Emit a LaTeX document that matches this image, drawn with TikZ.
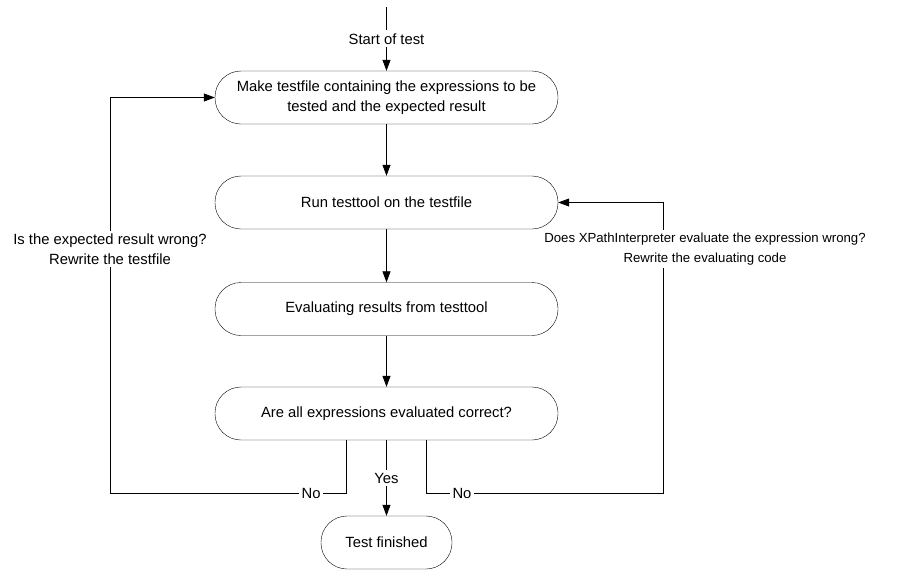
\documentclass[tikz,border=0pt]{standalone}
\usepackage{fontspec}
\setmainfont{Liberation Sans}
\usetikzlibrary{arrows.meta}

\begin{document}
\begin{tikzpicture}[x=1pt, y=-1pt,
        stadium/.style={draw, rounded corners=26pt, minimum height=53pt,
            minimum width=343pt, align=center, inner sep=0pt},
        flow/.style={line width=0.8pt, -{Triangle[length=11pt, width=8pt]}},
        lbl/.style={fill=white, align=center, inner sep=3pt},
        font=\fontsize{14.8}{20}\selectfont]

    % Page frame
    \useasboundingbox (0,0) rectangle (911,571);

    % Steps of the test
    \node[stadium] (make) at (386.5,97.5)
        {Make testfile containing the expressions to be\\tested and the expected result};
    \node[stadium] (run) at (386.5,202.5) {Run testtool on the testfile};
    \node[stadium] (eval) at (386.5,309) {Evaluating results from testtool};
    \node[stadium] (check) at (386.5,413.5) {Are all expressions evaluated correct?};
    \node[stadium, minimum width=131pt] (done) at (386.5,542.5) {Test finished};

    % Start
    \coordinate (top) at (386.5,7);
    \draw[flow] (top) -- node[lbl] {Start of test} (make);

    % Main flow
    \draw[flow] (make) -- (run);
    \draw[flow] (run) -- (eval);
    \draw[flow] (eval) -- (check);
    \draw[flow] (check) -- node[lbl] {Yes} (done);

    % Loop back: wrong testfile
    \coordinate (noL) at ([xshift=-40pt]check.south);
    \coordinate (cornerL) at (110,493);
    \draw[flow] (noL) |- node[lbl, pos=0.575] {No} (cornerL)
        -- node[lbl, pos=0.617] {Is the expected result wrong?\\Rewrite the testfile} (cornerL |- make)
        -- (make);

    % Loop back: wrong evaluation
    \coordinate (noR) at ([xshift=40pt]check.south);
    \coordinate (cornerR) at (663,493);
    \draw[flow] (noR) |- node[lbl, pos=0.575] {No} (cornerR)
        -- node[lbl, pos=0.84, xshift=42pt, font=\fontsize{13.2}{20}\selectfont]
            {Does XPathInterpreter evaluate the expression wrong?\\Rewrite the evaluating code} (cornerR |- run)
        -- (run);

\end{tikzpicture}
\end{document}
